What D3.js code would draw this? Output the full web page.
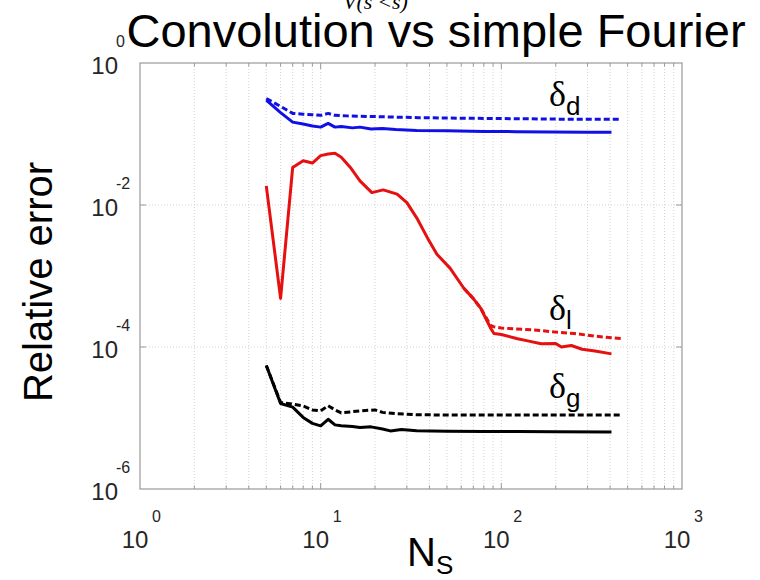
<!DOCTYPE html>
<html>
<head>
<meta charset="utf-8">
<script src="https://cdn.jsdelivr.net/npm/d3@7"></script>
<style>
  body { margin: 0; background: #fff; }
  svg { font-family: "Liberation Sans", Arial, sans-serif; }
</style>
</head>
<body>
<svg id="chart"></svg>
<script>
// delta_d (blue)
const nBlueSolid = [5, 6, 7, 8, 9, 10, 11, 12, 13, 15, 16.5, 19, 22, 26, 34, 50, 80, 120, 189, 300, 407];
const blueSolid = [0.299, 0.20, 0.147, 0.138, 0.13, 0.125, 0.141, 0.125, 0.128, 0.122, 0.125, 0.118, 0.1197, 0.116, 0.112, 0.111, 0.1085, 0.108, 0.107, 0.106, 0.106];
const nBlueDash = [5, 6, 7, 8, 9, 10, 11, 12, 14, 16.5, 20, 25, 35, 60, 100, 200, 457];
const blueDash = [0.316, 0.245, 0.195, 0.19, 0.187, 0.183, 0.195, 0.183, 0.18, 0.178, 0.176, 0.173, 0.17, 0.167, 0.165, 0.162, 0.161];

// delta_l (red)
const nRedSolid = [5, 6, 7, 8, 9, 10, 11, 12, 13, 14.6, 16.5, 19.2, 22.2, 26.5, 30, 34, 39, 44, 52, 62, 70, 77, 87.5, 91, 100, 123, 140, 166, 200, 215, 244, 280, 330, 407];
const redSolid = [0.0186, 4.84e-4, 0.0338, 0.0421, 0.039, 0.0496, 0.0524, 0.0534, 0.0469, 0.0338, 0.0219, 0.01495, 0.01633, 0.0142, 0.0108, 0.0066, 0.00344, 0.00202, 0.00129, 6.72e-4, 4.8e-4, 3.49e-4, 1.82e-4, 1.55e-4, 1.5e-4, 1.31e-4, 1.22e-4, 1.11e-4, 1.12e-4, 1.0e-4, 1.05e-4, 9.3e-5, 8.8e-5, 8.0e-5];
const nRedDash = [62, 70, 77, 87.5, 91, 100, 120, 151, 200, 253, 330, 463];
const redDash = [6.72e-4, 4.8e-4, 3.49e-4, 2.0e-4, 1.92e-4, 1.85e-4, 1.8e-4, 1.74e-4, 1.62e-4, 1.55e-4, 1.42e-4, 1.31e-4];

// delta_g (black)
const nBlackSolid = [5, 6, 7, 8, 9, 10, 11, 12, 13, 15, 16.5, 19, 22, 24.3, 28, 34, 50, 80, 123, 200, 407];
const blackSolid = [5.5e-5, 1.6e-5, 1.42e-5, 1.02e-5, 8.4e-6, 7.76e-6, 9.6e-6, 8.0e-6, 7.76e-6, 7.6e-6, 7.33e-6, 7.5e-6, 7.0e-6, 6.58e-6, 6.9e-6, 6.6e-6, 6.5e-6, 6.45e-6, 6.44e-6, 6.4e-6, 6.37e-6];
const nBlackDash = [5, 6, 7, 8, 9, 10, 11, 12, 13, 16.5, 20, 22, 26, 34, 60, 100, 200, 457];
const blackDash = [5.5e-5, 1.66e-5, 1.57e-5, 1.48e-5, 1.3e-5, 1.26e-5, 1.49e-5, 1.3e-5, 1.18e-5, 1.26e-5, 1.3e-5, 1.2e-5, 1.15e-5, 1.11e-5, 1.1e-5, 1.1e-5, 1.1e-5, 1.1e-5];

const xTickExp = [0, 1, 2, 3];
const yTickExp = [0, -2, -4, -6];

const series = [
  { n: nBlueSolid, v: blueSolid, color: "#1010e6", dash: null },
  { n: nBlueDash, v: blueDash, color: "#1010e6", dash: "6,3" },
  { n: nRedSolid, v: redSolid, color: "#e61010", dash: null },
  { n: nRedDash, v: redDash, color: "#e61010", dash: "6,3" },
  { n: nBlackSolid, v: blackSolid, color: "#000", dash: null },
  { n: nBlackDash, v: blackDash, color: "#000", dash: "6,3" }
];

const labels = [
  { sub: "d", n: 150, v: 0.25 },
  { sub: "l", n: 150, v: 2.4e-4 },
  { sub: "g", n: 150, v: 1.9e-5 }
];

const W = 760, H = 580;
const margin = { top: 63, right: 78, bottom: 91, left: 140 };

const svg = d3.select("#chart").attr("width", W).attr("height", H);

const x = d3.scaleLog().domain([1, 1000]).range([margin.left, W - margin.right]);
const y = d3.scaleLog().domain([1e-6, 1]).range([H - margin.bottom, margin.top]);

const x0 = x.range()[0], x1 = x.range()[1];
const y0 = y.range()[0], y1 = y.range()[1];

// grid
const minorX = [];
for (let d = 1; d < 1000; d *= 10) for (let k = 1; k <= 9; k++) minorX.push(d * k);
const gridX = minorX.filter(v => v > 1);

svg.append("g").selectAll("line").data(gridX).join("line")
  .attr("x1", d => x(d)).attr("x2", d => x(d))
  .attr("y1", y1).attr("y2", y0)
  .attr("stroke", "#c8c8c8").attr("stroke-width", 0.8)
  .attr("stroke-dasharray", "1,2");

svg.append("g").selectAll("line").data([1e-2, 1e-4]).join("line")
  .attr("x1", x0).attr("x2", x1)
  .attr("y1", d => y(d)).attr("y2", d => y(d))
  .attr("stroke", "#c8c8c8").attr("stroke-width", 0.8)
  .attr("stroke-dasharray", "1,2");

// ticks
const tk = svg.append("g").attr("stroke", "#9a9a9a").attr("stroke-width", 1);
gridX.forEach(d => {
  const len = [10, 100].includes(d) ? 6 : 3.5;
  tk.append("line").attr("x1", x(d)).attr("x2", x(d)).attr("y1", y0).attr("y2", y0 - len);
  tk.append("line").attr("x1", x(d)).attr("x2", x(d)).attr("y1", y1).attr("y2", y1 + len);
});
[1e-2, 1e-4].forEach(d => {
  tk.append("line").attr("x1", x0).attr("x2", x0 + 6).attr("y1", y(d)).attr("y2", y(d));
  tk.append("line").attr("x1", x1).attr("x2", x1 - 6).attr("y1", y(d)).attr("y2", y(d));
});

// box
svg.append("rect")
  .attr("x", x0).attr("y", y1)
  .attr("width", x1 - x0).attr("height", y0 - y1)
  .attr("fill", "none").attr("stroke", "#9a9a9a").attr("stroke-width", 1.2);

// lines
const line = d3.line().x(d => x(d[0])).y(d => y(d[1]));
series.forEach(s => {
  svg.append("path")
    .datum(s.n.map((n, i) => [n, s.v[i]]))
    .attr("d", line)
    .attr("fill", "none")
    .attr("stroke", s.color)
    .attr("stroke-width", 3)
    .attr("stroke-linejoin", "round")
    .attr("stroke-dasharray", s.dash);
});

// y tick labels
yTickExp.forEach(e => {
  const ty = y(Math.pow(10, e));
  svg.append("text").attr("x", 118).attr("y", ty + 11)
    .attr("text-anchor", "end").attr("font-size", 24).attr("fill", "#262626").text("10");
  svg.append("text").attr("x", 116).attr("y", ty - 16)
    .attr("font-size", 16).attr("fill", "#262626").text(String(e));
});

// x tick labels
xTickExp.forEach(e => {
  const tx = x(Math.pow(10, e));
  svg.append("text").attr("x", tx - 5).attr("y", 548)
    .attr("text-anchor", "middle").attr("font-size", 24).attr("fill", "#262626").text("10");
  svg.append("text").attr("x", tx + 12).attr("y", 522)
    .attr("font-size", 16).attr("fill", "#262626").text(String(e));
});

// series labels
labels.forEach(l => {
  const t = svg.append("text")
    .attr("x", 549).attr("y", y(l.v));
  t.append("tspan").attr("font-family", "'Liberation Serif', 'Times New Roman', serif")
    .attr("font-size", 36).text("δ");
  t.append("tspan").attr("font-size", 26).attr("dy", 9).text(l.sub);
});

// axis titles
const xl = svg.append("text").attr("x", 407).attr("y", 566).attr("font-size", 40);
xl.append("tspan").text("N");
xl.append("tspan").attr("font-size", 26).attr("dy", 8).text("S");

svg.append("text")
  .attr("transform", "translate(52,282) rotate(-90)")
  .attr("text-anchor", "middle")
  .attr("font-size", 40)
  .text("Relative error");

// clipped label above the title
svg.append("text")
  .attr("x", 343).attr("y", 9)
  .attr("font-family", "'Liberation Serif', 'Times New Roman', serif")
  .attr("font-style", "italic")
  .attr("font-size", 22)
  .text("V(s′<s)");

// title
svg.append("text")
  .attr("x", 436).attr("y", 47)
  .attr("text-anchor", "middle")
  .attr("font-size", 47)
  .text("Convolution vs simple Fourier");
</script>
</body>
</html>
